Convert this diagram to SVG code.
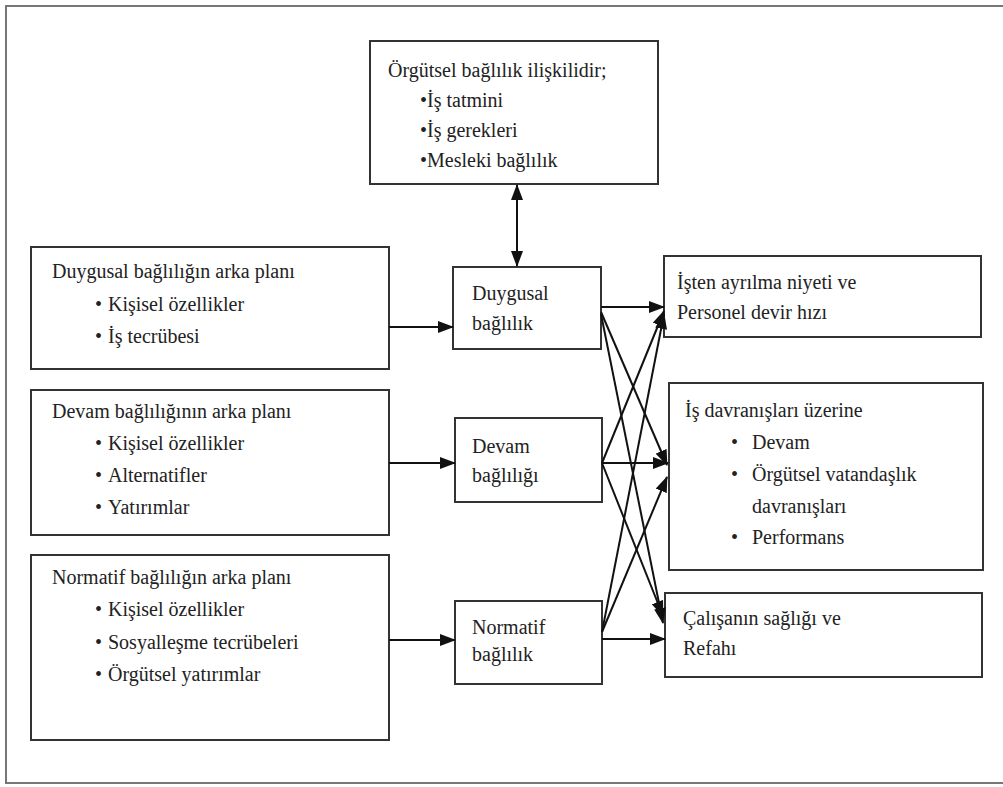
<svg xmlns="http://www.w3.org/2000/svg" width="1003" height="787" viewBox="0 0 1003 787">
<style>
.box{fill:#fff;stroke:#333;stroke-width:2}
.frame{fill:none;stroke:#777;stroke-width:2}
.ln{stroke:#111;stroke-width:2;fill:none}
.t text{font-family:"Times New Roman","Liberation Serif","DejaVu Serif",serif;font-size:20px;fill:#222}
</style>
<defs>
<marker id="ah3" viewBox="0 0 16 12" refX="15" refY="6" markerWidth="16" markerHeight="12" markerUnits="userSpaceOnUse" orient="auto-start-reverse">
<path d="M0,0 L16,6 L0,12 z" fill="#111"/>
</marker>
</defs>
<rect width="1003" height="787" fill="#fff"/>
<path class="frame" d="M1010,6 L6,6 L6,783 L1010,783"/>

<g class="t">
<g id="top">
<rect class="box" x="370" y="41" width="288" height="143"/>
<text x="388" y="77">Örgütsel bağlılık ilişkilidir;</text>
<text x="420" y="107">•İş tatmini</text>
<text x="420" y="137">•İş gerekleri</text>
<text x="420" y="167">•Mesleki bağlılık</text>
</g>

<g id="left1">
<rect class="box" x="31" y="247" width="358" height="122"/>
<text x="52" y="278">Duygusal bağlılığın arka planı</text>
<text x="95" y="311">•</text><text x="108" y="311">Kişisel özellikler</text>
<text x="95" y="343">•</text><text x="108" y="343">İş tecrübesi</text>
</g>

<g id="left2">
<rect class="box" x="31" y="390" width="358" height="145"/>
<text x="52" y="418">Devam bağlılığının arka planı</text>
<text x="95" y="450">•</text><text x="108" y="450">Kişisel özellikler</text>
<text x="95" y="482">•</text><text x="108" y="482">Alternatifler</text>
<text x="95" y="514">•</text><text x="108" y="514">Yatırımlar</text>
</g>

<g id="left3">
<rect class="box" x="31" y="555" width="358" height="185"/>
<text x="52" y="584">Normatif bağlılığın arka planı</text>
<text x="95" y="616">•</text><text x="108" y="616">Kişisel özellikler</text>
<text x="95" y="649">•</text><text x="108" y="649">Sosyalleşme tecrübeleri</text>
<text x="95" y="681">•</text><text x="108" y="681">Örgütsel yatırımlar</text>
</g>

<g id="duygusal">
<rect class="box" x="453" y="267" width="148" height="82"/>
<text x="472" y="300">Duygusal</text>
<text x="472" y="330">bağlılık</text>
</g>

<g id="devam">
<rect class="box" x="455" y="418" width="147" height="84"/>
<text x="472" y="453">Devam</text>
<text x="472" y="482">bağlılığı</text>
</g>

<g id="normatif">
<rect class="box" x="455" y="601" width="147" height="83"/>
<text x="472" y="634">Normatif</text>
<text x="472" y="661">bağlılık</text>
</g>

<g id="out1">
<rect class="box" x="664" y="256" width="317" height="81"/>
<text x="677" y="289">İşten ayrılma niyeti ve</text>
<text x="677" y="319">Personel devir hızı</text>
</g>

<g id="out2">
<rect class="box" x="669" y="383" width="314" height="187"/>
<text x="685" y="417">İş davranışları üzerine</text>
<text x="731" y="449">•</text><text x="752" y="449">Devam</text>
<text x="731" y="481">•</text><text x="752" y="481">Örgütsel vatandaşlık</text>
<text x="752" y="513">davranışları</text>
<text x="731" y="544">•</text><text x="752" y="544">Performans</text>
</g>

<g id="out3">
<rect class="box" x="665" y="593" width="317" height="84"/>
<text x="683" y="625">Çalışanın sağlığı ve</text>
<text x="683" y="655">Refahı</text>
</g>
</g>

<g id="connectors">
<line class="ln" x1="517" y1="185" x2="517" y2="266" marker-start="url(#ah3)" marker-end="url(#ah3)"/>
<line class="ln" x1="389" y1="327" x2="453" y2="327" marker-end="url(#ah3)"/>
<line class="ln" x1="389" y1="463" x2="455" y2="463" marker-end="url(#ah3)"/>
<line class="ln" x1="389" y1="640" x2="455" y2="640" marker-end="url(#ah3)"/>

<line class="ln" x1="601" y1="307" x2="664" y2="307" marker-end="url(#ah3)"/>
<line class="ln" x1="601" y1="312" x2="667" y2="465" marker-end="url(#ah3)"/>
<line class="ln" x1="601" y1="314" x2="663" y2="623" marker-end="url(#ah3)"/>

<line class="ln" x1="602" y1="463" x2="668" y2="463" marker-end="url(#ah3)"/>
<line class="ln" x1="602" y1="463" x2="664" y2="311" marker-end="url(#ah3)"/>
<line class="ln" x1="602" y1="463" x2="663" y2="616" marker-end="url(#ah3)"/>

<line class="ln" x1="602" y1="639" x2="665" y2="639" marker-end="url(#ah3)"/>
<line class="ln" x1="602" y1="632" x2="664" y2="314" marker-end="url(#ah3)"/>
<line class="ln" x1="602" y1="632" x2="667" y2="477" marker-end="url(#ah3)"/>
</g>
</svg>
